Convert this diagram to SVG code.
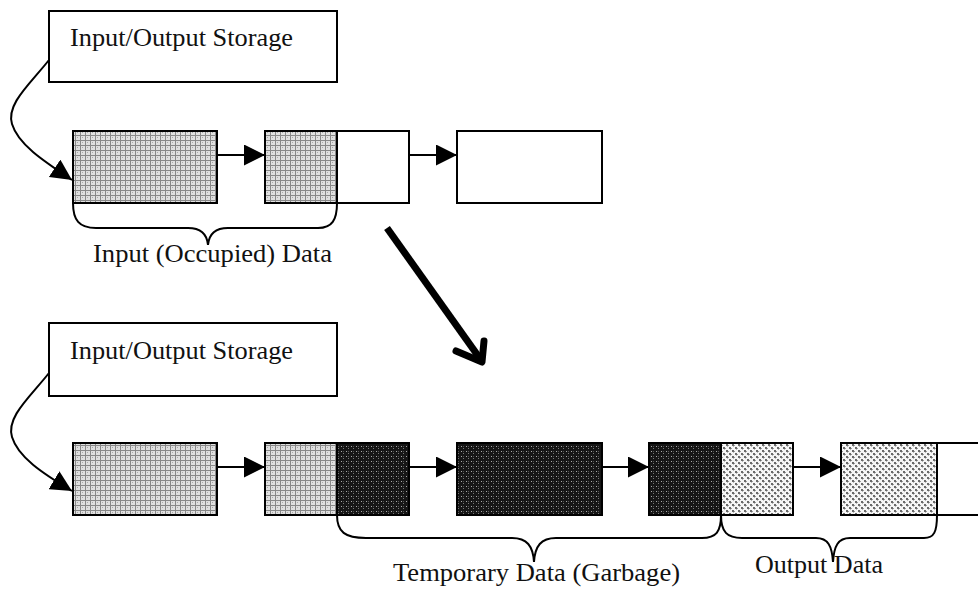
<svg xmlns="http://www.w3.org/2000/svg" width="978" height="589" viewBox="0 0 978 589">
  <style>
    .box { stroke: #000; stroke-width: 2; }
    .plain { fill: #fff; }
    .conn { fill: none; stroke: #000; stroke-width: 2; }
    .brace { fill: none; stroke: #000; stroke-width: 2; }
    .lbl { font-family: "Liberation Serif", "Times New Roman", serif; font-size: 26px; fill: #111; }
  </style>
  <defs>
    <!-- light grey tartan fill: occupied input blocks -->
    <pattern id="fillInput" width="5" height="5" patternUnits="userSpaceOnUse">
      <rect width="5" height="5" fill="#e0e0e0"/>
      <rect x="0" y="0" width="1" height="5" fill="#888"/>
      <rect x="0" y="0" width="5" height="1" fill="#888"/>
      <rect x="2" y="2" width="1" height="1" fill="#aaa"/>
    </pattern>
    <!-- dark dotted fill: temporary (garbage) blocks -->
    <pattern id="fillTemp" width="5" height="5" patternUnits="userSpaceOnUse">
      <rect width="5" height="5" fill="#161616"/>
      <rect x="1" y="1" width="1" height="1" fill="#a8a8a8"/>
      <rect x="3" y="3" width="1" height="1" fill="#7a7a7a"/>
      <rect x="3" y="1" width="1" height="1" fill="#555"/>
    </pattern>
    <!-- checkered fill: output blocks -->
    <pattern id="fillOutput" width="6" height="6" patternUnits="userSpaceOnUse">
      <rect width="6" height="6" fill="#f6f6f6"/>
      <rect x="0" y="0" width="2" height="2" fill="#6a6a6a"/>
      <rect x="3" y="3" width="2" height="2" fill="#6a6a6a"/>
      <rect x="2" y="1" width="1" height="1" fill="#9a9a9a"/>
      <rect x="5" y="4" width="1" height="1" fill="#9a9a9a"/>
      <rect x="1" y="2" width="1" height="1" fill="#b8b8b8"/>
      <rect x="4" y="5" width="1" height="1" fill="#b8b8b8"/>
    </pattern>
    <marker id="tri" markerWidth="21" markerHeight="21" refX="21" refY="10.5" orient="auto" markerUnits="userSpaceOnUse">
      <path d="M0,0 L21,10.5 L0,21 Z" fill="#000"/>
    </marker>
  </defs>

  <!-- ===== upper state ===== -->
  <g id="storage-top">
    <rect class="box plain" x="49" y="11" width="288" height="71"/>
    <text class="lbl" x="70" y="46" textLength="223" lengthAdjust="spacingAndGlyphs">Input/Output Storage</text>
  </g>
  <g id="top-block-1">
    <rect class="box" fill="url(#fillInput)" x="73" y="131" width="144" height="72"/>
  </g>
  <g id="top-block-2">
    <rect class="box" fill="url(#fillInput)" x="265" y="131" width="72" height="72"/>
    <rect class="box plain" x="337" y="131" width="72" height="72"/>
  </g>
  <g id="top-block-3">
    <rect class="box plain" x="457" y="131" width="145" height="72"/>
  </g>
  <g id="top-brace">
    <path class="brace" d="M73,203 C73,220 79,228 96,228 L188,228 C201,228 207,234 208,245 C209,234 215,228 228,228 L318,228 C332,228 337,220 337,203"/>
    <text class="lbl" x="93" y="262" textLength="239" lengthAdjust="spacingAndGlyphs">Input (Occupied) Data</text>
  </g>

  <!-- ===== lower state ===== -->
  <g id="storage-bottom">
    <rect class="box plain" x="49" y="323" width="288" height="73"/>
    <text class="lbl" x="70" y="359" textLength="223" lengthAdjust="spacingAndGlyphs">Input/Output Storage</text>
  </g>
  <g id="bot-block-1">
    <rect class="box" fill="url(#fillInput)" x="73" y="443" width="144" height="72"/>
  </g>
  <g id="bot-block-2">
    <rect class="box" fill="url(#fillInput)" x="265" y="443" width="72" height="72"/>
    <rect class="box" fill="url(#fillTemp)" x="337" y="443" width="72" height="72"/>
  </g>
  <g id="bot-block-3">
    <rect class="box" fill="url(#fillTemp)" x="457" y="443" width="145" height="72"/>
  </g>
  <g id="bot-block-4">
    <rect class="box" fill="url(#fillTemp)" x="649" y="443" width="72" height="72"/>
    <rect class="box" fill="url(#fillOutput)" x="721" y="443" width="72" height="72"/>
  </g>
  <g id="bot-block-5">
    <rect class="box" fill="url(#fillOutput)" x="841" y="443" width="96" height="72"/>
    <rect class="box plain" x="937" y="443" width="80" height="72"/>
  </g>
  <g id="temp-brace">
    <path class="brace" d="M337,515 C337,532 345,538 366,538 L512,538 C527,538 533,546 534,562 C535,546 541,538 556,538 L702,538 C716,538 721,532 721,515"/>
    <text class="lbl" x="393" y="581" textLength="287" lengthAdjust="spacingAndGlyphs">Temporary Data (Garbage)</text>
  </g>
  <g id="output-brace">
    <path class="brace" d="M721,515 C721,532 727,538 742,538 L816,538 C828,538 832,546 833,562 C834,546 838,538 850,538 L924,538 C934,538 937,532 937,515"/>
    <text class="lbl" x="755" y="573" textLength="128" lengthAdjust="spacingAndGlyphs">Output Data</text>
  </g>

  <!-- ===== connectors ===== -->
  <g id="connectors">
    <path class="conn" d="M49,60 C30,84 6,104 12,124 C18,144 42,160 72,180" marker-end="url(#tri)"/>
    <line class="conn" x1="217" y1="155" x2="265" y2="155" marker-end="url(#tri)"/>
    <line class="conn" x1="409" y1="155" x2="457" y2="155" marker-end="url(#tri)"/>

    <path class="conn" d="M49,373 C30,397 6,417 12,437 C18,457 42,473 72,491" marker-end="url(#tri)"/>
    <line class="conn" x1="217" y1="467" x2="265" y2="467" marker-end="url(#tri)"/>
    <line class="conn" x1="409" y1="467" x2="457" y2="467" marker-end="url(#tri)"/>
    <line class="conn" x1="602" y1="467" x2="649" y2="467" marker-end="url(#tri)"/>
    <line class="conn" x1="793" y1="467" x2="841" y2="467" marker-end="url(#tri)"/>

    <!-- transition arrow between the two states -->
    <line x1="387" y1="228" x2="481" y2="360" stroke="#000" stroke-width="7"/>
    <polyline points="456,351 482,362 484,341" fill="none" stroke="#000" stroke-width="7" stroke-linecap="round" stroke-linejoin="round"/>
  </g>
</svg>
